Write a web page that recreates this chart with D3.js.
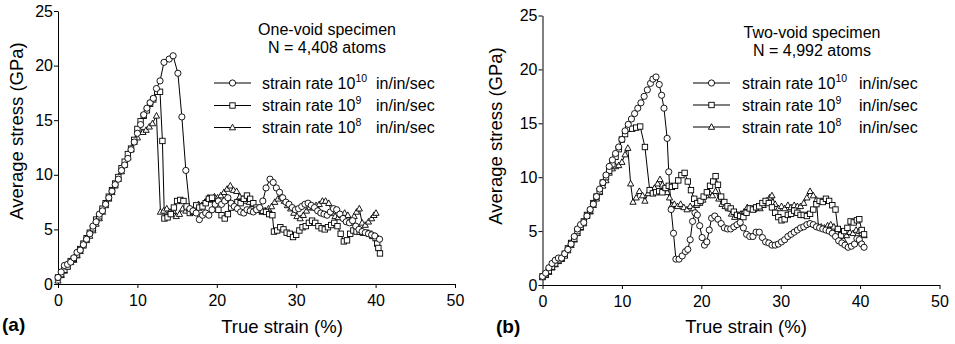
<!DOCTYPE html>
<html>
<head>
<meta charset="utf-8">
<script src="https://cdn.jsdelivr.net/npm/d3@7"></script>
<style>
  html, body { margin: 0; padding: 0; background: #fff; }
  svg { display: block; font-family: "Liberation Sans", Arial, sans-serif; }
</style>
</head>
<body>
<svg id="chart" width="955" height="344"></svg>
<script>
// ---- data: [true strain %, average stress GPa]
const xTicks = [0, 10, 20, 30, 40, 50];
const yTicks = [0, 5, 10, 15, 20, 25];
const rateExps = ['10', '9', '8'];

// (a) one-void specimen
const aRate10 = [[0,0.6],[0.4,1.1],[0.8,1.7],[1.2,1.8],[1.6,2.0],[2.0,2.4],[2.4,2.9],[2.8,3.1],[3.2,3.6],[3.6,4.1],[4.0,4.6],[4.4,5.3],[4.8,5.7],[5.2,6.4],[5.6,6.7],[6.0,7.3],[6.4,7.9],[6.8,8.5],[7.2,9.1],[7.6,9.6],[8.0,10.4],[8.4,10.9],[8.8,11.5],[9.2,12.3],[9.6,13.0],[10.0,13.8],[10.4,14.6],[10.8,15.5],[11.2,16.1],[11.6,16.6],[12.0,17.0],[12.4,17.9],[12.85,18.6],[13.35,20.3],[14.0,20.6],[14.5,20.9],[15.1,19.3],[15.6,15.3],[16.1,10.4],[16.6,6.9],[17.0,6.7],[17.4,6.5],[17.8,5.9],[18.2,6.3],[18.6,6.5],[19.0,6.3],[19.4,6.8],[19.8,7.3],[20.2,7.6],[20.6,7.3],[21.0,7.6],[21.4,7.9],[21.8,7.4],[22.2,7.1],[22.6,6.9],[23.0,6.6],[23.4,6.5],[23.8,6.8],[24.2,6.7],[24.6,6.6],[25.0,6.8],[25.4,7.0],[25.8,7.6],[26.2,8.8],[26.7,9.6],[27.1,9.3],[27.5,8.8],[27.9,8.4],[28.3,7.9],[28.7,7.5],[29.1,7.3],[29.5,7.0],[29.9,6.8],[30.3,6.9],[30.7,7.1],[31.1,7.3],[31.5,7.4],[31.9,7.2],[32.3,7.0],[32.7,6.7],[33.1,6.5],[33.5,6.4],[33.9,6.3],[34.3,6.6],[34.7,6.9],[35.1,6.8],[35.5,6.4],[35.9,6.0],[36.3,5.7],[36.7,5.6],[37.1,5.8],[37.5,5.3],[37.9,5.0],[38.3,4.8],[38.7,4.7],[39.1,4.6],[39.5,4.5],[39.9,4.4],[40.5,4.1]];
const aRate9 = [[0,0.6],[0.4,0.9],[0.8,1.3],[1.2,1.6],[1.6,2.1],[2.0,2.3],[2.4,2.7],[2.8,3.2],[3.2,3.7],[3.6,4.2],[4.0,4.7],[4.4,5.1],[4.8,5.9],[5.2,6.2],[5.6,6.9],[6.0,7.4],[6.4,8.0],[6.8,8.6],[7.2,9.2],[7.6,9.8],[8.0,10.6],[8.4,11.2],[8.8,11.9],[9.2,12.4],[9.6,13.2],[10.0,14.2],[10.4,14.9],[10.8,15.4],[11.2,15.9],[11.6,16.5],[12.0,16.9],[12.5,17.6],[12.85,17.6],[13.15,13.1],[13.4,6.0],[13.8,6.1],[14.2,6.4],[14.6,7.0],[15.0,7.6],[15.4,7.7],[15.8,7.6],[16.2,7.1],[16.6,6.5],[17.0,6.6],[17.4,7.2],[17.8,7.0],[18.2,7.1],[18.6,7.4],[19.0,7.8],[19.4,7.9],[19.8,7.4],[20.2,6.8],[20.6,6.3],[21.0,6.0],[21.4,6.4],[21.8,7.0],[22.2,7.3],[22.6,7.5],[23.0,7.4],[23.4,7.8],[23.8,8.1],[24.2,7.8],[24.6,7.4],[25.0,7.0],[25.4,6.8],[25.8,6.7],[26.2,6.6],[26.6,6.4],[27.0,6.3],[27.2,4.8],[27.6,4.9],[28.0,5.2],[28.4,5.0],[28.8,4.7],[29.2,4.6],[29.6,4.3],[30.0,4.5],[30.4,4.9],[30.8,5.2],[31.2,5.3],[31.6,5.6],[32.0,5.8],[32.4,5.6],[32.8,5.3],[33.2,5.1],[33.6,5.0],[34.0,5.2],[34.4,5.4],[34.8,5.6],[35.2,5.3],[35.6,4.6],[36.0,3.9],[36.4,4.0],[36.8,4.6],[37.2,4.9],[37.6,4.8],[38.0,4.8],[38.4,4.7],[38.8,4.7],[39.2,4.6],[39.6,4.4],[40.0,4.2],[40.2,3.7],[40.35,3.3],[40.55,2.8]];
const aRate8 = [[0,0.3],[0.4,0.8],[0.8,1.2],[1.2,1.6],[1.6,2.0],[2.0,2.2],[2.4,2.6],[2.8,3.0],[3.2,3.5],[3.6,4.0],[4.0,4.4],[4.4,4.9],[4.8,5.5],[5.2,6.0],[5.6,6.6],[6.0,7.2],[6.4,7.8],[6.8,8.4],[7.2,9.0],[7.6,9.6],[8.0,10.3],[8.4,10.9],[8.8,11.6],[9.2,12.3],[9.6,13.0],[10.0,13.4],[10.3,14.1],[10.7,13.9],[11.1,14.1],[11.5,14.4],[11.9,14.7],[12.4,15.4],[12.9,6.6],[13.3,6.7],[13.7,6.9],[14.1,6.6],[14.5,6.7],[14.9,6.2],[15.3,6.4],[15.7,6.9],[16.1,6.7],[16.5,6.9],[16.9,6.6],[17.3,7.0],[17.7,7.3],[18.1,7.2],[18.5,7.5],[18.9,7.9],[19.3,7.7],[19.7,8.0],[20.1,7.9],[20.5,8.1],[20.9,8.4],[21.3,8.7],[21.7,9.0],[22.1,8.6],[22.5,8.5],[22.9,8.0],[23.3,7.8],[23.7,7.6],[24.1,7.5],[24.5,7.3],[24.9,6.9],[25.3,6.8],[25.7,6.6],[26.1,6.7],[26.5,6.9],[26.9,7.1],[27.3,7.5],[27.7,7.8],[28.1,8.0],[28.5,7.6],[28.9,7.2],[29.3,6.9],[29.7,6.5],[30.1,6.2],[30.5,6.0],[30.9,6.3],[31.3,6.7],[31.7,7.0],[32.1,7.0],[32.5,7.2],[32.9,7.3],[33.3,7.6],[33.7,7.6],[34.1,7.4],[34.5,6.5],[34.9,6.2],[35.3,6.1],[35.7,6.3],[36.1,6.5],[36.5,6.3],[36.9,5.6],[37.3,6.2],[37.6,6.6],[37.95,6.9],[38.3,5.6],[38.7,5.4],[39.1,5.7],[39.5,6.0],[39.8,6.3],[40.05,6.5]];

// (b) two-void specimen
const bRate10 = [[0,0.8],[0.4,1.1],[0.8,1.6],[1.2,2.0],[1.6,2.3],[2.0,2.5],[2.4,2.5],[2.8,2.9],[3.2,3.3],[3.6,3.8],[4.0,4.5],[4.4,5.2],[4.8,5.6],[5.2,5.8],[5.6,6.4],[6.0,7.0],[6.4,7.5],[6.8,8.2],[7.2,8.9],[7.6,9.5],[8.0,10.2],[8.4,11.0],[8.8,11.6],[9.2,12.2],[9.6,12.8],[10.0,13.5],[10.4,14.3],[10.8,14.9],[11.2,15.4],[11.6,15.9],[12.0,16.4],[12.4,16.9],[12.8,17.5],[13.2,18.1],[13.6,18.7],[13.9,19.1],[14.3,19.3],[14.7,18.6],[15.0,17.6],[15.3,16.4],[15.7,13.6],[15.9,10.5],[16.2,7.0],[16.5,4.8],[16.8,2.4],[17.2,2.4],[17.6,2.7],[18.0,3.1],[18.3,3.3],[18.6,4.2],[18.9,5.9],[19.2,6.7],[19.5,6.5],[19.8,5.5],[20.1,4.4],[20.4,3.7],[20.7,4.0],[21.0,5.1],[21.3,6.2],[21.7,6.4],[22.1,6.1],[22.5,5.7],[22.9,5.3],[23.3,5.2],[23.7,5.2],[24.1,5.4],[24.5,5.6],[24.9,5.8],[25.3,5.3],[25.7,4.7],[26.1,4.5],[26.5,4.5],[26.9,4.9],[27.3,4.9],[27.7,4.4],[28.1,4.0],[28.5,3.9],[28.9,3.7],[29.3,3.7],[29.7,3.8],[30.1,4.0],[30.5,4.2],[30.9,4.5],[31.3,4.7],[31.7,4.9],[32.1,5.1],[32.5,5.3],[32.9,5.4],[33.3,5.6],[33.7,5.7],[34.1,5.6],[34.5,5.4],[34.9,5.3],[35.3,5.2],[35.7,5.1],[36.1,5.0],[36.5,4.8],[36.9,4.5],[37.3,4.1],[37.7,3.9],[38.1,3.7],[38.5,3.5],[38.9,3.6],[39.3,3.8],[39.6,4.3],[39.9,4.2],[40.2,3.8],[40.5,3.5]];
const bRate9 = [[0,0.8],[0.4,1.0],[0.8,1.3],[1.2,1.7],[1.6,2.0],[2.0,2.3],[2.4,2.5],[2.8,2.9],[3.2,3.4],[3.6,3.9],[4.0,4.3],[4.4,5.0],[4.8,5.4],[5.2,5.9],[5.6,6.5],[6.0,6.9],[6.4,7.6],[6.8,8.2],[7.2,8.7],[7.6,9.5],[8.0,10.0],[8.4,10.6],[8.8,11.2],[9.2,11.9],[9.6,12.6],[10.0,13.5],[10.4,14.0],[10.8,14.5],[11.3,14.5],[11.8,14.6],[12.3,14.7],[12.9,12.8],[13.5,8.8],[13.9,8.5],[14.3,8.6],[14.7,8.7],[15.1,8.6],[15.5,9.0],[15.9,9.2],[16.3,9.1],[16.7,9.2],[17.1,9.7],[17.5,10.2],[17.9,10.4],[18.3,9.6],[18.7,8.8],[19.1,8.0],[19.5,7.6],[19.9,7.8],[20.3,8.2],[20.7,8.6],[21.1,9.2],[21.5,9.6],[21.8,10.1],[22.1,9.3],[22.5,8.2],[22.9,7.7],[23.3,7.3],[23.7,7.1],[24.1,6.8],[24.5,6.5],[24.9,6.4],[25.3,6.3],[25.7,6.7],[26.1,7.1],[26.5,7.0],[26.9,7.2],[27.3,7.3],[27.7,7.6],[28.1,7.8],[28.5,7.6],[28.9,7.2],[29.3,6.7],[29.7,6.3],[30.1,6.0],[30.5,6.1],[30.9,6.5],[31.3,6.6],[31.7,6.9],[32.1,6.7],[32.5,6.5],[32.9,6.5],[33.3,6.4],[33.7,6.6],[34.1,7.0],[34.5,7.5],[34.9,7.8],[35.3,7.7],[35.7,8.0],[36.1,7.8],[36.5,7.4],[36.9,7.0],[37.2,5.2],[37.6,4.6],[38.0,5.0],[38.4,5.3],[38.8,5.9],[39.2,5.8],[39.6,6.0],[39.9,6.1],[40.2,5.1],[40.5,4.7]];
const bRate8 = [[0,0.7],[0.4,0.9],[0.8,1.2],[1.2,1.6],[1.6,1.9],[2.0,2.2],[2.4,2.4],[2.8,2.7],[3.2,3.2],[3.6,3.7],[4.0,4.2],[4.4,4.8],[4.8,5.3],[5.2,5.7],[5.6,6.4],[6.0,6.8],[6.4,7.4],[6.8,8.0],[7.2,8.6],[7.6,9.2],[8.0,9.7],[8.4,10.4],[8.8,10.8],[9.2,11.0],[9.6,11.1],[10.0,11.4],[10.4,12.1],[10.75,12.7],[11.1,9.4],[11.4,7.7],[11.8,8.1],[12.2,8.7],[12.6,8.3],[12.9,7.8],[13.3,8.5],[13.7,8.8],[14.1,9.0],[14.5,9.4],[14.8,9.8],[15.1,9.3],[15.4,9.0],[15.7,8.6],[16.0,8.1],[16.3,7.4],[16.6,7.5],[17.0,7.3],[17.4,7.5],[17.8,7.2],[18.2,7.0],[18.6,7.3],[19.0,7.1],[19.4,7.4],[19.8,7.6],[20.2,7.9],[20.6,8.3],[21.0,8.6],[21.4,8.3],[21.8,8.7],[22.2,8.0],[22.6,7.5],[23.0,7.3],[23.4,7.1],[23.8,6.6],[24.2,6.3],[24.6,6.5],[25.0,6.6],[25.4,6.8],[25.8,7.2],[26.2,7.1],[26.6,7.0],[27.0,7.3],[27.4,7.1],[27.8,7.4],[28.2,7.8],[28.6,8.1],[28.9,8.3],[29.3,7.5],[29.7,7.1],[30.1,7.3],[30.5,7.1],[30.9,7.4],[31.3,7.2],[31.7,7.4],[32.1,7.3],[32.5,7.3],[32.9,7.6],[33.3,8.1],[33.7,8.7],[34.1,8.3],[34.5,7.9],[34.75,5.4],[35.1,5.4],[35.5,5.3],[35.9,5.5],[36.3,5.6],[36.7,5.4],[37.1,5.2],[37.5,4.5],[37.9,4.2],[38.3,4.6],[38.7,4.9],[39.1,4.8],[39.5,5.1],[39.9,5.0],[40.2,4.8],[40.5,4.6]];

const svg = d3.select('#chart');
const FONT = '"Liberation Sans", Arial, sans-serif';

// marker painter: circle / square / triangle, white fill with black outline
function drawMarker(g, kind, cx, cy) {
    if (kind === 'circle') {
        g.append('circle').attr('cx', cx).attr('cy', cy).attr('r', 3.1)
            .attr('fill', '#fff').attr('stroke', '#000').attr('stroke-width', 0.9);
    } else if (kind === 'square') {
        g.append('rect').attr('x', cx - 2.7).attr('y', cy - 2.7).attr('width', 5.4).attr('height', 5.4)
            .attr('fill', '#fff').attr('stroke', '#000').attr('stroke-width', 0.9);
    } else {
        g.append('path').attr('d', `M${cx},${cy - 3.3}L${cx + 3.1},${cy + 2.3}L${cx - 3.1},${cy + 2.3}Z`)
            .attr('fill', '#fff').attr('stroke', '#000').attr('stroke-width', 0.9);
    }
}

function panel(cfg) {
    const x = d3.scaleLinear().domain([0, 50]).range([cfg.x0, cfg.x1]);
    const y = d3.scaleLinear().domain([0, 25]).range([cfg.y0, cfg.y1]);
    const g = svg.append('g');

    // axes
    g.append('g')
        .attr('transform', `translate(0,${cfg.y0})`)
        .call(d3.axisBottom(x).tickValues(xTicks).tickSize(4).tickPadding(7).tickSizeOuter(0))
        .call(a => a.selectAll('text').attr('font-size', 16).attr('font-family', FONT).attr('fill', '#000'))
        .call(a => a.selectAll('path, line').attr('stroke', '#000'));
    g.append('g')
        .attr('transform', `translate(${cfg.x0},0)`)
        .call(d3.axisLeft(y).tickValues(yTicks).tickSize(4).tickPadding(1).tickSizeOuter(0))
        .call(a => a.selectAll('text').attr('font-size', 16).attr('font-family', FONT).attr('fill', '#000'))
        .call(a => a.selectAll('path, line').attr('stroke', '#000'));

    // axis titles
    g.append('text')
        .attr('transform', `translate(${cfg.yTitleX},${cfg.yTitleY}) rotate(-90)`)
        .attr('text-anchor', 'middle').attr('font-size', 18.5).text('Average stress (GPa)');
    g.append('text')
        .attr('x', cfg.xTitleX).attr('y', 333)
        .attr('text-anchor', 'middle').attr('font-size', 18.5).text('True strain (%)');
    g.append('text')
        .attr('x', cfg.tagX).attr('y', cfg.tagY)
        .attr('font-size', 19).attr('font-weight', 700).text(cfg.tag);

    // specimen note
    g.append('text').attr('x', cfg.noteX).attr('y', cfg.noteY)
        .attr('text-anchor', 'middle').attr('font-size', 16).text(cfg.note1);
    g.append('text').attr('x', cfg.noteX).attr('y', cfg.noteY + 18)
        .attr('text-anchor', 'middle').attr('font-size', 16).text(cfg.note2);

    // series
    const line = d3.line().x(d => x(d[0])).y(d => y(d[1]));
    cfg.series.forEach(s => {
        g.append('path').datum(s.data).attr('d', line)
            .attr('fill', 'none').attr('stroke', '#000').attr('stroke-width', 1);
    });
    cfg.series.forEach(s => {
        const mg = g.append('g');
        s.data.forEach(d => drawMarker(mg, s.kind, x(d[0]), y(d[1])));
    });

    // legend
    const kinds = ['circle', 'square', 'triangle'];
    kinds.forEach((k, i) => {
        const ly = cfg.legY[i];
        g.append('line').attr('x1', cfg.legX0).attr('x2', cfg.legX0 + 37)
            .attr('y1', ly).attr('y2', ly).attr('stroke', '#000').attr('stroke-width', 1.2);
        drawMarker(g, k, cfg.legX0 + 18.5, ly);
        const t = g.append('text').attr('x', cfg.legTextX).attr('y', ly + 5.5).attr('font-size', 16);
        t.append('tspan').text('strain rate 10');
        t.append('tspan').attr('font-size', 10.5).attr('dy', -7).text(rateExps[i]);
        t.append('tspan').attr('x', cfg.unitX).attr('dy', 7).text('in/in/sec');
    });
}

panel({
    x0: 58, x1: 455, y0: 284, y1: 11,
    yTitleX: 23, yTitleY: 131, xTitleX: 282, tagX: 2, tagY: 331, tag: '(a)',
    noteX: 327, noteY: 35, note1: 'One-void specimen', note2: 'N = 4,408 atoms',
    legX0: 214, legTextX: 262, unitX: 376, legY: [83, 105.5, 127.5],
    series: [
        { kind: 'triangle', data: aRate8 },
        { kind: 'square', data: aRate9 },
        { kind: 'circle', data: aRate10 }
    ]
});

panel({
    x0: 542.5, x1: 939.5, y0: 285, y1: 15.5,
    yTitleX: 502, yTitleY: 136, xTitleX: 746, tagX: 496, tagY: 333, tag: '(b)',
    noteX: 812, noteY: 38, note1: 'Two-void specimen', note2: 'N = 4,992 atoms',
    legX0: 693, legTextX: 742, unitX: 859, legY: [83, 105, 127],
    series: [
        { kind: 'triangle', data: bRate8 },
        { kind: 'square', data: bRate9 },
        { kind: 'circle', data: bRate10 }
    ]
});
</script>
</body>
</html>
